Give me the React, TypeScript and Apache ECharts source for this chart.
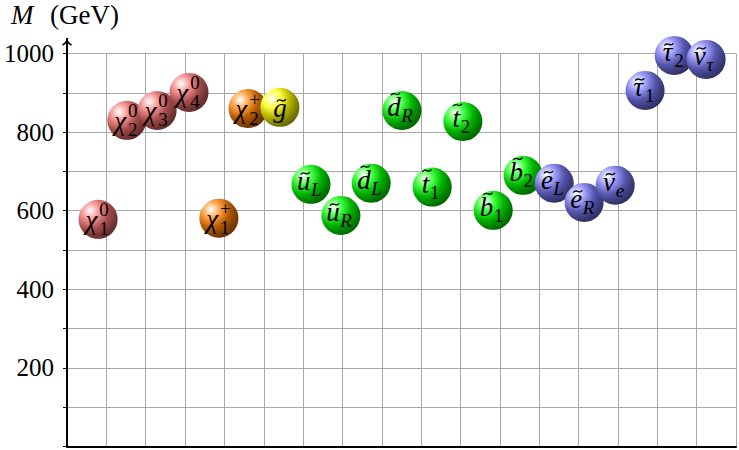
import React, { useEffect, useRef } from "react";
import * as echarts from "echarts";

// ---- data ----
const particleIds = [
  "chi10", "chi20", "chi30", "chi40", "chi1+", "chi2+", "gluino",
  "uL", "uR", "dL", "dR", "t1", "t2", "b1", "b2",
  "eL", "eR", "nue", "tau1", "tau2", "nutau",
];
// horizontal placement along the (unlabelled) x axis
const xPositions = [79, 152, 229, 310, 386, 460, 541, 620, 696, 773, 851, 928, 1006, 1083, 1159, 1238, 1314, 1393, 1469, 1543, 1624];
// masses in GeV
const masses = [578, 830, 855, 901, 581, 860, 863, 667, 588, 670, 855, 660, 827, 601, 690, 670, 621, 665, 906, 995, 985];
const mainSymbols = ["χ", "χ", "χ", "χ", "χ", "χ", "g", "u", "u", "d", "d", "t", "t", "b", "b", "e", "e", "ν", "τ", "τ", "ν"];
const subscripts = ["1", "2", "3", "4", "1", "2", "", "L", "R", "L", "R", "1", "2", "1", "2", "L", "R", "e", "1", "2", "τ"];
const superscripts = ["0", "0", "0", "0", "+", "+", "", "", "", "", "", "", "", "", "", "", "", "", "", "", ""];
const families = [
  "neutralino", "neutralino", "neutralino", "neutralino", "chargino", "chargino", "gluino",
  "squark", "squark", "squark", "squark", "squark", "squark", "squark", "squark",
  "slepton", "slepton", "slepton", "slepton", "slepton", "slepton",
];
const yTickLabels = [200, 400, 600, 800, 1000];

// ---- style ----
const familyColors: Record<string, number[]> = {
  neutralino: [240, 110, 110],
  chargino: [255, 128, 0],
  gluino: [255, 255, 0],
  squark: [0, 255, 0],
  slepton: [120, 120, 245],
};
const SERIF = "Liberation Serif";
const glyphEm: Record<string, number> = {
  "χ": 0.55, g: 0.5, u: 0.5, d: 0.5, t: 0.3, b: 0.5, e: 0.444, "ν": 0.46, "τ": 0.46,
  L: 0.56, R: 0.61, "1": 0.5, "2": 0.5, "3": 0.5, "4": 0.5, "0": 0.5, "+": 0.6,
};
const tallLetters = ["d", "t", "b"];

function mix(a: number[], b: number[], t: number): string {
  const c = a.map((v, k) => Math.round(v * t + b[k] * (1 - t)));
  return `rgb(${c[0]},${c[1]},${c[2]})`;
}

function ballGradient(base: number[]) {
  const white = [255, 255, 255];
  const black = [0, 0, 0];
  return new echarts.graphic.RadialGradient(0.3, 0.28, 1.3, [
    { offset: 0, color: "#ffffff" },
    { offset: 0.18, color: mix(base, white, 0.75) },
    { offset: 0.36, color: mix(base, black, 0.7) },
    { offset: 0.5, color: mix(base, black, 0.5) },
    { offset: 1, color: "#000000" },
  ]);
}

const MAIN_SIZE = 27;
const SUB_SIZE = 19;
const R = 19.5;

function textStyle(text: string, size: number, italic: boolean, align: string) {
  return {
    text,
    font: `${italic ? "italic" : "normal"} normal ${size}px ${SERIF}`,
    fill: "#000",
    align,
    verticalAlign: "middle",
  };
}

export default function App() {
  const ref = useRef<HTMLDivElement>(null);

  useEffect(() => {
    if (!ref.current) return;
    const chart = echarts.init(ref.current, undefined, { renderer: "svg" });

    const data = xPositions.map((x, i) => [x, masses[i], i]);

    const renderItem = (params: any, api: any) => {
      const i = api.value(2);
      const pt = api.coord([api.value(0), api.value(1)]);
      const cx = pt[0];
      const cy = pt[1];
      const m = mainSymbols[i];
      const sub = subscripts[i];
      const sup = superscripts[i];
      const isGreekChi = m === "χ";
      const base = familyColors[families[i]];
      const wMain = (glyphEm[m] || 0.5) * MAIN_SIZE;
      const wSub = sub ? (glyphEm[sub] || 0.5) * SUB_SIZE : 0;
      const total = wMain + wSub;
      const left = cx - (sub ? 2 : 0) - total / 2;
      const mainCx = left + wMain / 2;
      const subLeft = left + wMain + 0.5;
      const mainMid = cy + (isGreekChi || m === "g" ? 0.5 : -3.5);
      const subItalic = /[A-Za-zτ]/.test(sub);

      const children: any[] = [
        { type: "circle", shape: { cx, cy, r: R }, style: { fill: ballGradient(base) } },
        { type: "text", x: mainCx, y: mainMid, style: textStyle(m, MAIN_SIZE, true, "center") },
      ];
      if (sub) {
        children.push({ type: "text", x: subLeft, y: mainMid + 9, style: textStyle(sub, SUB_SIZE, subItalic, "left") });
      }
      if (sup) {
        children.push({ type: "text", x: subLeft, y: mainMid - 10, style: textStyle(sup, SUB_SIZE, false, "left") });
      }
      if (!isGreekChi) {
        const tx = mainCx + 1.5;
        const ty = mainMid + (tallLetters.includes(m) ? -13 : -7.5);
        children.push({
          type: "bezierCurve",
          shape: {
            x1: tx - 4.5, y1: ty + 1.2,
            x2: tx + 4.5, y2: ty - 1.2,
            cpx1: tx - 1.5, cpy1: ty - 3.8,
            cpx2: tx + 1.5, cpy2: ty + 3.8,
          },
          style: { stroke: "#000", lineWidth: 1.3, fill: null },
        });
      }
      return { type: "group", children };
    };

    chart.setOption({
      animation: false,
      backgroundColor: "#ffffff",
      grid: { left: 67, top: 53.5, right: 3, bottom: 3.5, containLabel: false },
      xAxis: {
        type: "value",
        min: 0,
        max: 1700,
        interval: 100,
        axisLine: { show: true, lineStyle: { color: "#000", width: 2 } },
        axisTick: { show: false },
        axisLabel: { show: false },
        splitLine: { show: true, lineStyle: { color: "#a8a8a8", width: 1 } },
      },
      yAxis: {
        type: "value",
        min: 0,
        max: 1000,
        interval: 100,
        axisLine: { show: true, lineStyle: { color: "#000", width: 2 } },
        axisTick: { show: true, inside: false, length: 4, lineStyle: { color: "#000", width: 1 } },
        axisLabel: {
          show: true,
          margin: 13,
          color: "#000",
          fontSize: 25,
          fontFamily: SERIF,
          formatter: (v: number) => (yTickLabels.includes(v) ? String(v) : ""),
        },
        splitLine: { show: true, lineStyle: { color: "#a8a8a8", width: 1 } },
      },
      graphic: [
        { type: "text", x: 11, y: 15, style: textStyle("M", 27, true, "left") },
        { type: "text", x: 50, y: 15, style: textStyle("(GeV)", 27, false, "left") },
        { type: "line", shape: { x1: 67, y1: 55, x2: 67, y2: 39 }, style: { stroke: "#000", lineWidth: 2 } },
        {
          type: "bezierCurve",
          shape: { x1: 67, y1: 38, cpx1: 67.3, cpy1: 41, cpx2: 65.5, cpy2: 43.5, x2: 62.5, y2: 45 },
          style: { stroke: "#000", lineWidth: 1.5, fill: null },
        },
        {
          type: "bezierCurve",
          shape: { x1: 67, y1: 38, cpx1: 66.7, cpy1: 41, cpx2: 68.5, cpy2: 43.5, x2: 71.5, y2: 45 },
          style: { stroke: "#000", lineWidth: 1.5, fill: null },
        },
      ],
      series: [
        {
          type: "custom",
          name: "sparticles",
          coordinateSystem: "cartesian2d",
          clip: false,
          renderItem,
          data,
          z: 5,
        },
      ],
    });

    return () => chart.dispose();
  }, []);

  return (
    <div
      ref={ref}
      style={{ width: 739, height: 450, position: "absolute", left: 0, top: 0 }}
      data-ids={particleIds.join(",")}
    />
  );
}
